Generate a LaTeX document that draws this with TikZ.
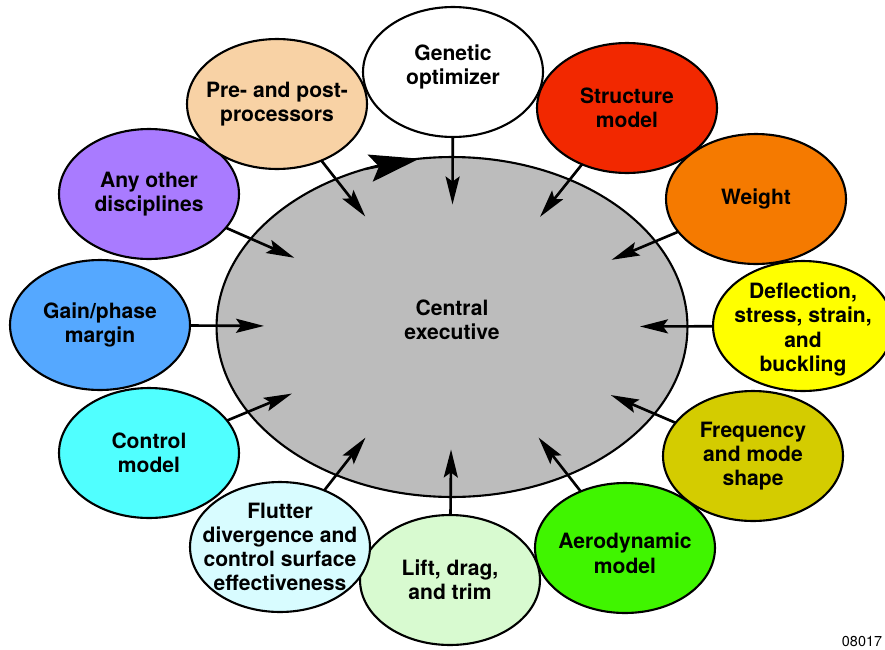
\documentclass[tikz,border=0pt]{standalone}
\usepackage{fontspec}
\setmainfont{TeX Gyre Heros}
\usetikzlibrary{shapes,arrows.meta}

\definecolor{execgray}{RGB}{188,188,188}
\definecolor{structred}{RGB}{242,40,0}
\definecolor{weightorange}{RGB}{245,122,0}
\definecolor{deflyellow}{RGB}{255,255,0}
\definecolor{freqolive}{RGB}{212,204,0}
\definecolor{aerogreen}{RGB}{64,245,0}
\definecolor{liftgreen}{RGB}{216,250,208}
\definecolor{fluttercyan}{RGB}{216,252,255}
\definecolor{controlcyan}{RGB}{80,255,255}
\definecolor{gainblue}{RGB}{85,168,255}
\definecolor{otherpurple}{RGB}{169,123,255}
\definecolor{prepeach}{RGB}{248,210,165}

\begin{document}
\begin{tikzpicture}[x=0.02cm,y=-0.02cm,
    disc/.style={ellipse,draw,line width=1.2pt,minimum width=3.6cm,minimum height=2.6cm,inner sep=0pt,outer sep=0pt},
    txt/.style={font=\bfseries\fontsize{12}{13.8}\selectfont,align=center},
    feed/.style={line width=1.5pt,shorten >=-0.95cm,-{Stealth[length=0.56cm,width=0.28cm,inset=0.1cm]}},
    spin/.style={line width=1.2pt,-{Stealth[length=1cm,width=0.55cm,inset=0.18cm]}}]
\useasboundingbox (0,0) rectangle (885,649);
\node[disc,fill=execgray,minimum width=9.42cm,minimum height=6.8cm,label={[txt,yshift=4pt]center:Central\\executive}] (exec) at (452,327) {};
\node[disc,fill=white,label={[txt,yshift=3pt]center:Genetic\\optimizer}] (gen) at (453,72) {};
\node[disc,fill=structred,label={[txt]center:Structure\\model}] (struct) at (627,108) {};
\node[disc,fill=weightorange,label={[txt]center:Weight}] (weight) at (756,199) {};
\node[disc,fill=deflyellow,label={[txt,yshift=-2pt]center:Deflection,\\stress, strain,\\and\\buckling}] (defl) at (803,326) {};
\node[disc,fill=freqolive,label={[txt]center:Frequency\\and mode\\shape}] (freq) at (753,456) {};
\node[disc,fill=aerogreen,label={[txt,yshift=-3pt]center:Aerodynamic\\model}] (aero) at (625,548) {};
\node[disc,fill=liftgreen,label={[txt]center:Lift, drag,\\and trim}] (lift) at (450,580) {};
\node[disc,fill=fluttercyan,label={[txt]center:Flutter\\divergence and\\control surface\\effectiveness}] (flutter) at (280,547) {};
\node[disc,fill=controlcyan,label={[txt]center:Control\\model}] (control) at (149,453) {};
\node[disc,fill=gainblue,label={[txt]center:Gain/phase\\margin}] (gain) at (100,325) {};
\node[disc,fill=otherpurple,label={[txt]center:Any other\\disciplines}] (other) at (149,194) {};
\node[disc,fill=prepeach,label={[txt]center:Pre- and post-\\processors}] (prepost) at (277,104) {};
\foreach \v in {gen,struct,weight,defl,freq,aero,lift,flutter,control,gain,other,prepost}
    \draw[feed] (\v) -- (exec);
\draw[spin] (exec.119) -- (exec.101);
\node[font=\fontsize{8.2}{9}\selectfont] (code) at (862,641) {08017};
\end{tikzpicture}
\end{document}
